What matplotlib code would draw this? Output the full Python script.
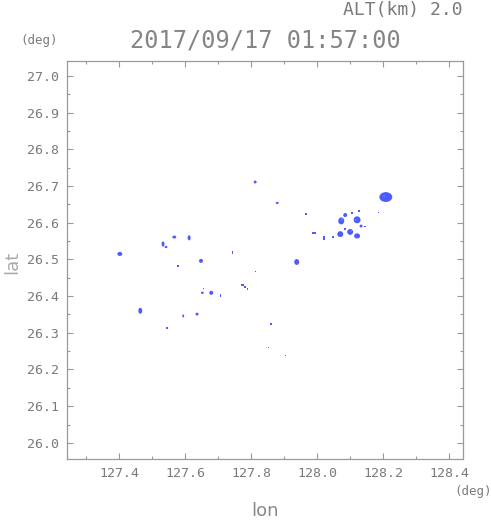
import numpy as np
import matplotlib
matplotlib.use('Agg')
import matplotlib.pyplot as plt
from matplotlib.patches import Ellipse, Rectangle

# echo cells: centre lon/lat and extent (deg)
echo_lon = [128.208, 128.085, 128.073, 128.121, 128.133, 128.070, 128.100, 128.121,
            127.938, 127.402, 127.533, 127.542, 127.567, 127.612, 127.648, 127.464,
            127.679, 127.652, 127.594, 127.636, 127.812, 127.879]
echo_lat = [26.670, 26.621, 26.605, 26.608, 26.591, 26.569, 26.575, 26.564,
            26.493, 26.515, 26.542, 26.534, 26.561, 26.559, 26.496, 26.360,
            26.409, 26.409, 26.346, 26.351, 26.711, 26.654]
echo_w = [0.039, 0.012, 0.018, 0.021, 0.009, 0.018, 0.018, 0.018,
          0.015, 0.015, 0.009, 0.009, 0.012, 0.009, 0.012, 0.012,
          0.012, 0.009, 0.006, 0.009, 0.009, 0.009]
echo_h = [0.027, 0.011, 0.019, 0.019, 0.008, 0.016, 0.016, 0.014,
          0.016, 0.011, 0.014, 0.006, 0.008, 0.014, 0.011, 0.016,
          0.011, 0.006, 0.008, 0.008, 0.008, 0.006]

# stronger cores (lighter colour)
core_lon = [128.076, 128.118, 128.203, 128.103]
core_lat = [26.610, 26.608, 26.672, 26.577]
core_w = [0.008, 0.008, 0.006, 0.005]
core_h = [0.006, 0.005, 0.005, 0.004]

# single pixel / thin echoes
dot_lon = [127.773, 127.782, 127.788, 127.706, 127.545, 127.861, 127.852, 127.903,
           127.742, 127.812, 127.655, 127.579, 127.967, 127.991, 128.021, 128.048,
           128.106, 128.127, 128.185, 128.145, 128.085]
dot_lat = [26.431, 26.425, 26.420, 26.401, 26.313, 26.324, 26.259, 26.237,
           26.518, 26.466, 26.420, 26.482, 26.624, 26.572, 26.559, 26.561,
           26.627, 26.632, 26.629, 26.589, 26.583]
dot_w = [0.009, 0.006, 0.003, 0.003, 0.006, 0.006, 0.003, 0.003,
         0.003, 0.003, 0.003, 0.006, 0.006, 0.012, 0.006, 0.009,
         0.006, 0.006, 0.003, 0.006, 0.006]
dot_h = [0.005, 0.005, 0.006, 0.008, 0.003, 0.008, 0.003, 0.003,
         0.008, 0.003, 0.003, 0.008, 0.005, 0.003, 0.011, 0.003,
         0.005, 0.003, 0.003, 0.003, 0.005]

x_ticks = [127.4, 127.6, 127.8, 128.0, 128.2, 128.4]
y_ticks = [26.0, 26.1, 26.2, 26.3, 26.4, 26.5, 26.6, 26.7, 26.8, 26.9, 27.0]

title = '2017/09/17 01:57:00'
alt_label = 'ALT(km) 2.0'

blue = '#4d5bff'
cyan = '#4594f5'
grey = '#7a7a7a'
mono = 'DejaVu Sans Mono'

fig = plt.figure(figsize=(4.91, 5.21), dpi=100)
ax = fig.add_axes([0.1365, 0.119, 0.8065, 0.764])

for x, y, w, h in zip(echo_lon, echo_lat, echo_w, echo_h):
    ax.add_patch(Ellipse((x, y), w, h, facecolor=blue, edgecolor='none'))
for x, y, w, h in zip(core_lon, core_lat, core_w, core_h):
    ax.add_patch(Ellipse((x, y), w, h, facecolor=cyan, edgecolor='none'))
for x, y, w, h in zip(dot_lon, dot_lat, dot_w, dot_h):
    ax.add_patch(Rectangle((x - w / 2, y - h / 2), w, h, facecolor=blue,
                           edgecolor='none', antialiased=False))

ax.set_xlim(127.242, 128.442)
ax.set_ylim(25.956, 27.041)
ax.set_xticks(x_ticks)
ax.set_xticks(np.arange(127.3, 128.41, 0.1), minor=True)
ax.set_yticks(y_ticks)
ax.set_yticks(np.arange(26.0, 27.04, 0.05), minor=True)
ax.set_xticklabels(['%.1f' % v for v in x_ticks], fontfamily=mono)
ax.set_yticklabels(['%.1f' % v for v in y_ticks], fontfamily=mono)

ax.tick_params(which='both', direction='in', top=True, right=True,
               colors='#999999', labelcolor=grey, labelsize=9.5, width=0.8)
ax.tick_params(which='major', length=4, pad=6)
ax.tick_params(which='minor', length=2)
for s in ax.spines.values():
    s.set_color('#999999')
    s.set_linewidth(0.9)

fig.text(0.54, 0.923, title, ha='center', va='center', fontsize=17,
         color='#858585', family=mono)
fig.text(0.943, 0.981, alt_label, ha='right', va='center', fontsize=13,
         color=grey, family=mono)
fig.text(0.079, 0.923, '(deg)', ha='center', va='center', fontsize=9,
         color=grey, family=mono)
fig.text(0.963, 0.056, '(deg)', ha='center', va='center', fontsize=9,
         color=grey, family=mono)
fig.text(0.54, 0.019, 'lon', ha='center', va='center', fontsize=13, color='#888888')
fig.text(0.025, 0.497, 'lat', ha='center', va='center', fontsize=13, color='#aaaaaa',
         rotation=90)

fig.savefig('out.png', dpi=100)
